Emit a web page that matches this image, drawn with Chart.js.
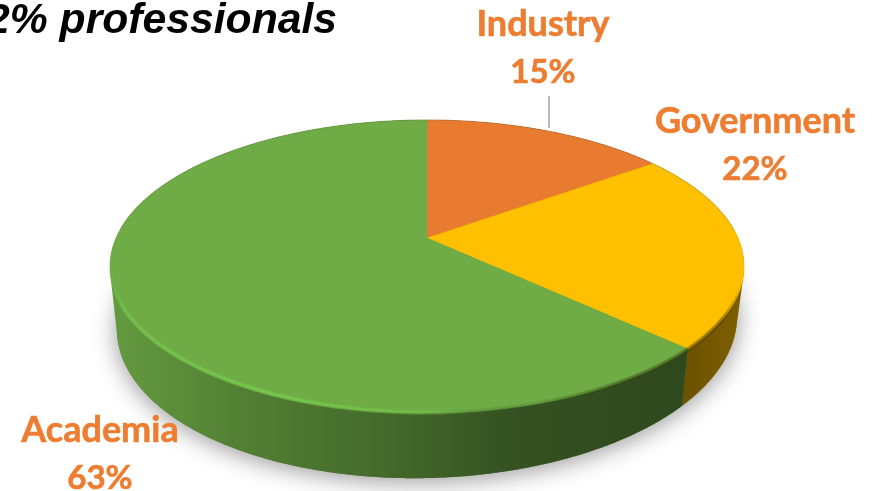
<!DOCTYPE html>
<html>
<head>
<meta charset="utf-8">
<script src="https://cdn.jsdelivr.net/npm/chart.js@4"></script>
<style>
html, body { margin: 0; padding: 0; background: #fff; overflow: hidden; }
canvas { display: block; }
</style>
</head>
<body>
<canvas id="myChart" width="877" height="491"></canvas>
<script>
const categories = ['Industry', 'Government', 'Academia'];
const shares = [15, 22, 63];

const sliceColors = ['#E87B30', '#FFC000', '#6FAC46'];
const labelColor = '#ED7D31';
// label centre and first baseline for each category
const labelSpots = [[543, 36], [755, 133], [100, 442]];

// tilted disc: perspective of the top face, then the offset of the lower face
const disc = { cx: 427, cy: 238, rx: 311, ry: 141, persp: -0.1945 };
const base = { sx: 0.978, sy: 1.06, dy: 54.5, skew: -0.02 };
const wallLevels = 40;

function topPoint(a) {
    const w = 1 + disc.persp * Math.sin(a);
    return [disc.cx + disc.rx * Math.cos(a) / w, disc.cy + disc.ry * Math.sin(a) / w];
}

function basePoint(a) {
    const [x, y] = topPoint(a);
    const dx = x - disc.cx;
    return [
        disc.cx + dx * base.sx,
        disc.cy + base.dy + (y - disc.cy) * base.sy + dx * base.skew
    ];
}

function trace(ctx, fn, from, to, first) {
    const steps = Math.max(2, Math.ceil(Math.abs(to - from) / 0.01));
    for (let i = 0; i <= steps; i++) {
        const [x, y] = fn(from + (to - from) * i / steps);
        if (i === 0 && first) ctx.moveTo(x, y); else ctx.lineTo(x, y);
    }
}

// one path holding the slice at every depth between the top and lower face
function solidPath(ctx, from, to) {
    ctx.beginPath();
    for (let k = 0; k <= wallLevels; k++) {
        const t = k / wallLevels;
        const level = (a) => {
            const p = topPoint(a);
            const q = basePoint(a);
            return [p[0] + (q[0] - p[0]) * t, p[1] + (q[1] - p[1]) * t];
        };
        ctx.moveTo(disc.cx, disc.cy + base.dy * t);
        trace(ctx, level, from, to, false);
        ctx.closePath();
    }
}

function stops(grad, list) {
    list.forEach(([p, c]) => grad.addColorStop(p, c));
    return grad;
}

const tiltedPie = {
    id: 'tiltedPie',
    beforeDatasetDraw(chart, args) {
        const ctx = chart.ctx;
        const arcs = args.meta.data;

        // soft shadow under the lower face
        ctx.save();
        ctx.shadowColor = 'rgba(0,0,0,0.42)';
        ctx.shadowBlur = 24;
        ctx.shadowOffsetY = 3;
        ctx.fillStyle = '#777';
        ctx.beginPath();
        trace(ctx, basePoint, arcs[0].startAngle, arcs[arcs.length - 1].endAngle, true);
        ctx.closePath();
        ctx.fill();
        ctx.restore();

        // outer wall, slice colour darkened from left to right
        const wallShade = stops(ctx.createLinearGradient(110, 0, 745, 0), [
            [0, 'rgba(0,0,0,0.10)'],
            [0.22, 'rgba(0,0,0,0.27)'],
            [0.46, 'rgba(0,0,0,0.40)'],
            [0.62, 'rgba(0,0,0,0.52)'],
            [0.9, 'rgba(0,0,0,0.58)'],
            [1, 'rgba(0,0,0,0.50)']
        ]);
        arcs.forEach((arc, i) => {
            solidPath(ctx, arc.startAngle, arc.endAngle);
            ctx.fillStyle = sliceColors[i];
            ctx.fill();
            ctx.fillStyle = wallShade;
            ctx.fill();
        });

        // top face
        arcs.forEach((arc, i) => {
            ctx.beginPath();
            ctx.moveTo(disc.cx, disc.cy);
            trace(ctx, topPoint, arc.startAngle, arc.endAngle, false);
            ctx.closePath();
            ctx.fillStyle = sliceColors[i];
            ctx.strokeStyle = sliceColors[i];
            ctx.lineWidth = 0.5;
            ctx.fill();
            ctx.stroke();
        });

        // thin grey line along the far edge
        ctx.beginPath();
        trace(ctx, topPoint, Math.PI * 1.02, Math.PI * 1.98, true);
        ctx.strokeStyle = 'rgba(90,90,70,0.25)';
        ctx.lineWidth = 1;
        ctx.stroke();

        // bevel on the near edge: bright on the left, dark on the right
        const bevel = stops(ctx.createLinearGradient(110, 0, 745, 0), [
            [0, 'rgba(118,200,76,0)'],
            [0.02, 'rgba(118,200,76,0.4)'],
            [0.25, 'rgba(118,200,76,0.7)'],
            [0.5, 'rgba(118,200,76,0.3)'],
            [0.66, 'rgba(50,70,20,0.08)'],
            [0.8, 'rgba(40,50,10,0.25)'],
            [0.96, 'rgba(60,45,0,0.3)'],
            [0.995, 'rgba(60,45,0,0)']
        ]);
        [4.5, 2.5].forEach((width) => {
            ctx.beginPath();
            trace(ctx, (a) => {
                const [x, y] = topPoint(a);
                return [x, y - 0.5];
            }, 0.1, Math.PI - 0.2, true);
            ctx.strokeStyle = bevel;
            ctx.lineWidth = width;
            ctx.stroke();
        });

        return false;
    },
    afterDraw(chart) {
        const ctx = chart.ctx;
        ctx.save();

        ctx.fillStyle = '#000';
        ctx.textAlign = 'left';
        ctx.textBaseline = 'alphabetic';
        ctx.font = 'italic bold 42.7px "Liberation Sans"';
        ctx.fillText('2% professionals', -14, 33);

        // leader line up to the Industry label
        ctx.strokeStyle = '#A6A6A6';
        ctx.lineWidth = 1.5;
        ctx.beginPath();
        ctx.moveTo(549, 96);
        ctx.lineTo(549, 128);
        ctx.stroke();

        // slight outline thickens the label weight
        ctx.fillStyle = labelColor;
        ctx.strokeStyle = labelColor;
        ctx.lineWidth = 0.6;
        ctx.textAlign = 'center';
        categories.forEach((name, i) => {
            const [x, y] = labelSpots[i];
            const pct = shares[i] + '%';
            ctx.font = 'bold 36px Lato';
            ctx.fillText(name, x, y);
            ctx.strokeText(name, x, y);
            ctx.font = 'bold 33px Lato';
            ctx.fillText(pct, x, y + 47);
            ctx.strokeText(pct, x, y + 47);
        });
        ctx.restore();
    }
};

new Chart(document.getElementById('myChart').getContext('2d'), {
    type: 'pie',
    data: {
        labels: categories,
        datasets: [{ data: shares, backgroundColor: sliceColors, borderWidth: 0 }]
    },
    options: {
        responsive: false,
        animation: false,
        plugins: { legend: { display: false }, tooltip: { enabled: false } }
    },
    plugins: [tiltedPie]
});
</script>
</body>
</html>
